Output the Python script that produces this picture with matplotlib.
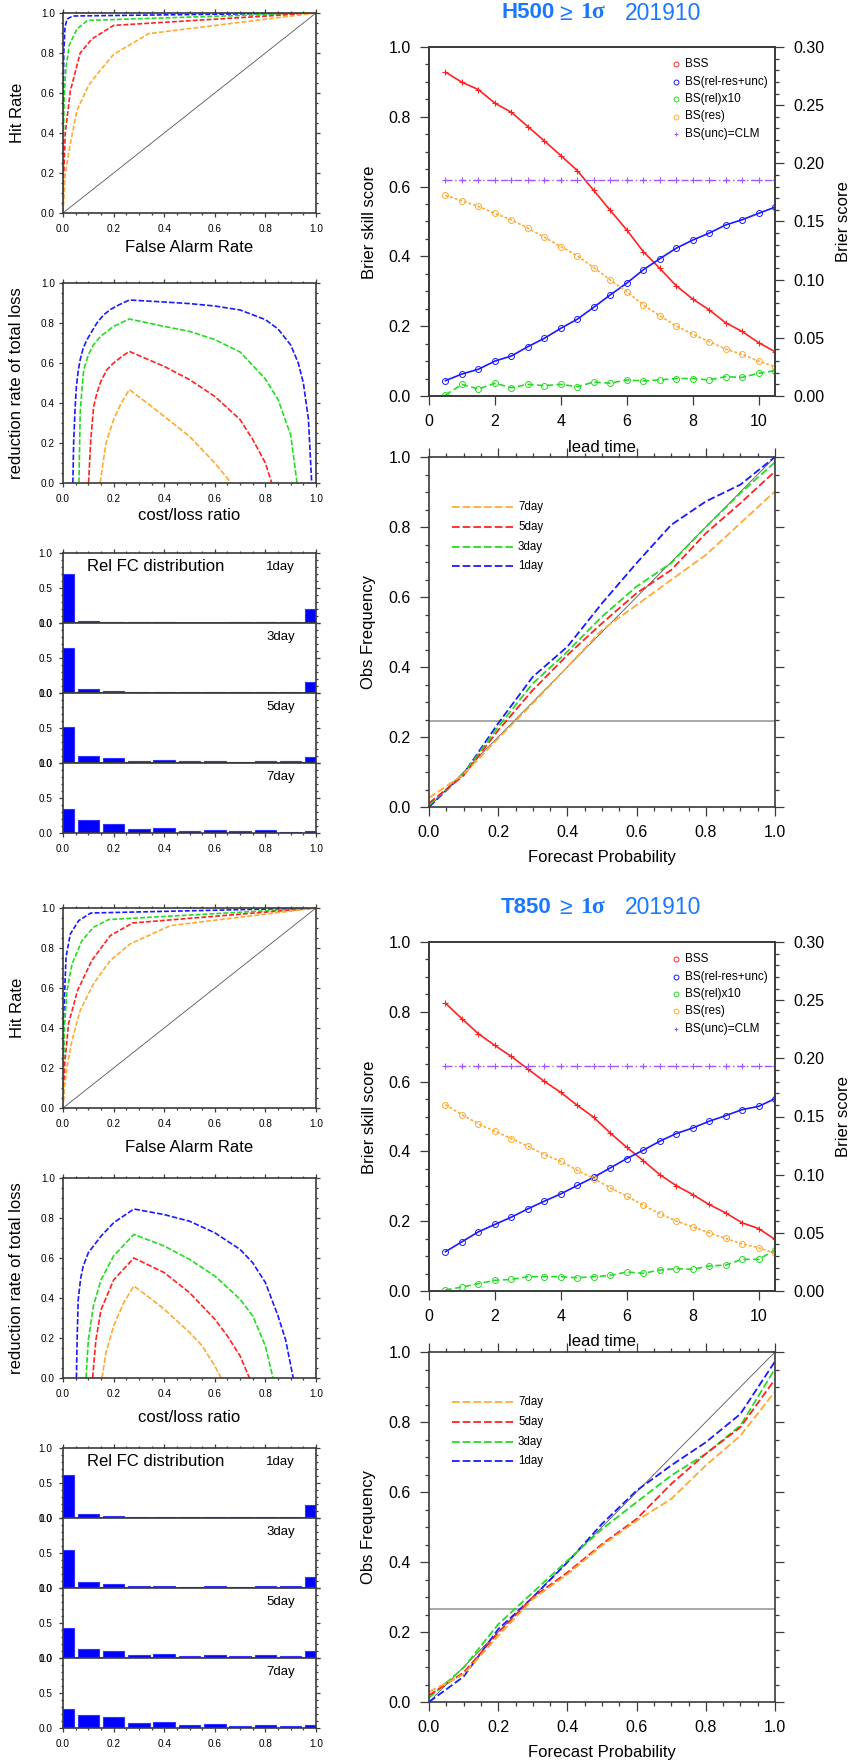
import matplotlib
matplotlib.use('Agg')
import matplotlib.pyplot as plt
from matplotlib.ticker import MultipleLocator, FormatStrFormatter

plt.rcParams['font.family'] = ['Liberation Sans', 'DejaVu Sans']
plt.rcParams['lines.scale_dashes'] = False

# ------------------------------------------------------------------ data
days = ['1day', '3day', '5day', '7day']
legend_order = ['7day', '5day', '3day', '1day']
title_month = '201910'

# ROC curves (false alarm rate, hit rate) per lead day
roc_h500_far = [[0, 0.001, 0.003, 0.008, 0.016, 0.039, 1.0],
                [0, 0.002, 0.005, 0.012, 0.025, 0.055, 0.097, 1.0],
                [0, 0.003, 0.009, 0.029, 0.068, 0.114, 0.2, 1.0],
                [0, 0.009, 0.029, 0.055, 0.101, 0.147, 0.2, 0.339, 1.0]]
roc_h500_hr = [[0, 0.55, 0.8, 0.93, 0.97, 0.985, 1.0],
               [0, 0.4, 0.6, 0.73, 0.84, 0.92, 0.963, 1.0],
               [0, 0.2, 0.4, 0.61, 0.8, 0.87, 0.938, 1.0],
               [0, 0.197, 0.347, 0.513, 0.638, 0.713, 0.793, 0.897, 1.0]]
roc_t850_far = [[0, 0.003, 0.012, 0.029, 0.062, 0.11, 1.0],
                [0, 0.005, 0.016, 0.036, 0.075, 0.121, 0.18, 1.0],
                [0, 0.007, 0.022, 0.058, 0.114, 0.187, 0.275, 1.0],
                [0, 0.005, 0.016, 0.036, 0.068, 0.121, 0.187, 0.266, 0.425, 1.0]]
roc_t850_hr = [[0, 0.47, 0.755, 0.87, 0.937, 0.975, 1.0],
               [0, 0.39, 0.589, 0.721, 0.837, 0.904, 0.942, 1.0],
               [0, 0.224, 0.423, 0.589, 0.738, 0.862, 0.925, 1.0],
               [0, 0.1, 0.207, 0.34, 0.489, 0.622, 0.738, 0.821, 0.912, 1.0]]

# Economic value curves (cost/loss ratio, reduction rate of total loss)
val_h500_cl = [[0.039, 0.042, 0.048, 0.053, 0.06, 0.068, 0.08, 0.095, 0.115, 0.134, 0.16, 0.187, 0.22, 0.262, 0.4, 0.5, 0.6, 0.7, 0.8, 0.85, 0.9, 0.93, 0.95, 0.97, 0.983],
               [0.063, 0.068, 0.075, 0.082, 0.1, 0.12, 0.15, 0.2, 0.262, 0.4, 0.5, 0.6, 0.7, 0.8, 0.85, 0.9, 0.925],
               [0.101, 0.11, 0.121, 0.134, 0.15, 0.174, 0.2, 0.23, 0.262, 0.4, 0.5, 0.6, 0.7, 0.75, 0.8, 0.825],
               [0.147, 0.158, 0.17, 0.2, 0.23, 0.262, 0.35, 0.4, 0.5, 0.6, 0.665]]
val_h500_rr = [[0, 0.2, 0.38, 0.483, 0.56, 0.617, 0.675, 0.717, 0.76, 0.8, 0.84, 0.867, 0.89, 0.915, 0.905, 0.897, 0.885, 0.865, 0.817, 0.77, 0.69, 0.6, 0.5, 0.32, 0],
               [0, 0.35, 0.47, 0.567, 0.64, 0.69, 0.735, 0.783, 0.82, 0.783, 0.758, 0.717, 0.655, 0.52, 0.417, 0.24, 0],
               [0, 0.22, 0.38, 0.45, 0.51, 0.567, 0.6, 0.63, 0.658, 0.583, 0.517, 0.433, 0.317, 0.217, 0.1, 0],
               [0, 0.1, 0.2, 0.317, 0.4, 0.467, 0.383, 0.333, 0.233, 0.1, 0]]
val_t850_cl = [[0.053, 0.056, 0.06, 0.07, 0.08, 0.1, 0.15, 0.2, 0.28, 0.4, 0.5, 0.6, 0.7, 0.75, 0.8, 0.85, 0.88, 0.91],
               [0.091, 0.1, 0.12, 0.15, 0.2, 0.28, 0.4, 0.5, 0.6, 0.7, 0.75, 0.8, 0.83],
               [0.117, 0.13, 0.15, 0.2, 0.28, 0.4, 0.5, 0.6, 0.65, 0.7, 0.737],
               [0.154, 0.17, 0.2, 0.24, 0.28, 0.35, 0.4, 0.5, 0.55, 0.6, 0.625]]
val_t850_rr = [[0, 0.2, 0.39, 0.5, 0.56, 0.626, 0.709, 0.776, 0.845, 0.817, 0.784, 0.726, 0.643, 0.576, 0.477, 0.31, 0.19, 0],
               [0, 0.19, 0.36, 0.49, 0.61, 0.718, 0.66, 0.593, 0.51, 0.394, 0.31, 0.16, 0],
               [0, 0.19, 0.34, 0.49, 0.6, 0.527, 0.427, 0.294, 0.21, 0.11, 0],
               [0, 0.128, 0.26, 0.377, 0.46, 0.394, 0.344, 0.228, 0.161, 0.06, 0]]

# Reliable forecast distribution histograms
hist_bins = [0.0, 0.1, 0.2, 0.3, 0.4, 0.5, 0.6, 0.7, 0.8, 0.9, 1.0]
hist_h500 = [[0.705, 0.022, 0.015, 0.008, 0.008, 0.006, 0.006, 0.008, 0.01, 0.01, 0.205],
             [0.643, 0.057, 0.035, 0.02, 0.02, 0.015, 0.015, 0.015, 0.02, 0.015, 0.162],
             [0.514, 0.1, 0.071, 0.035, 0.04, 0.025, 0.03, 0.02, 0.03, 0.025, 0.09],
             [0.348, 0.181, 0.129, 0.06, 0.07, 0.035, 0.05, 0.03, 0.04, 0.02, 0.035]]
hist_t850 = [[0.612, 0.057, 0.035, 0.015, 0.015, 0.01, 0.012, 0.01, 0.015, 0.015, 0.19],
             [0.55, 0.08, 0.055, 0.025, 0.03, 0.02, 0.025, 0.02, 0.03, 0.025, 0.153],
             [0.43, 0.134, 0.096, 0.045, 0.055, 0.035, 0.04, 0.03, 0.04, 0.03, 0.105],
             [0.272, 0.186, 0.153, 0.075, 0.085, 0.045, 0.055, 0.035, 0.045, 0.03, 0.05]]

# Brier scores vs lead time
lead = [0.5, 1.0, 1.5, 2.0, 2.5, 3.0, 3.5, 4.0, 4.5, 5.0, 5.5, 6.0, 6.5, 7.0, 7.5, 8.0, 8.5, 9.0, 9.5, 10.0, 10.5]
bss_h500 = [0.928, 0.899, 0.878, 0.839, 0.813, 0.772, 0.731, 0.689, 0.646, 0.589, 0.532, 0.476, 0.414, 0.366, 0.316, 0.278, 0.247, 0.21, 0.185, 0.153, 0.127]
bs_h500 = [0.0132, 0.0189, 0.023, 0.030, 0.0344, 0.0424, 0.0496, 0.0582, 0.066, 0.0763, 0.0869, 0.097, 0.1084, 0.1179, 0.127, 0.134, 0.14, 0.147, 0.1515, 0.157, 0.1623]
bsrel_h500 = [0.0009, 0.010, 0.006, 0.0109, 0.0072, 0.010, 0.0089, 0.010, 0.008, 0.012, 0.011, 0.0138, 0.0129, 0.0138, 0.015, 0.015, 0.0138, 0.0166, 0.016, 0.0195, 0.0218]
bsres_h500 = [0.1724, 0.1678, 0.163, 0.1569, 0.1515, 0.1443, 0.1365, 0.1285, 0.1205, 0.1104, 0.0998, 0.0898, 0.0783, 0.0691, 0.0602, 0.0531, 0.0468, 0.0404, 0.0358, 0.030, 0.0252]
bsunc_h500 = [0.1858] * 21
bss_t850 = [0.8246, 0.78, 0.737, 0.7035, 0.672, 0.636, 0.6006, 0.569, 0.532, 0.4976, 0.4528, 0.4118, 0.3737, 0.3337, 0.302, 0.2765, 0.248, 0.224, 0.1954, 0.179, 0.1478]
bs_t850 = [0.0338, 0.0423, 0.0509, 0.0572, 0.0635, 0.0706, 0.0772, 0.0835, 0.0907, 0.0978, 0.1058, 0.1138, 0.121, 0.1287, 0.1353, 0.1401, 0.1459, 0.1507, 0.1559, 0.1587, 0.1653]
bsrel_t850 = [0.0009, 0.0034, 0.0063, 0.0092, 0.010, 0.0123, 0.0123, 0.0123, 0.0114, 0.0123, 0.0134, 0.0163, 0.0152, 0.018, 0.0192, 0.0186, 0.0215, 0.0223, 0.0272, 0.0272, 0.0352]
bsres_t850 = [0.1602, 0.1516, 0.1436, 0.1373, 0.131, 0.1244, 0.1173, 0.1115, 0.1038, 0.0967, 0.0887, 0.0815, 0.0738, 0.0666, 0.0601, 0.0552, 0.05, 0.0452, 0.0406, 0.0372, 0.0323]
bsunc_t850 = [0.1936] * 21
bs_legend = ['BSS', 'BS(rel-res+unc)', 'BS(rel)x10', 'BS(res)', 'BS(unc)=CLM']

# Reliability diagrams
fc_prob = [0.0, 0.1, 0.2, 0.3, 0.4, 0.5, 0.6, 0.7, 0.8, 0.9, 1.0]
rel_h500 = [[0.0, 0.095, 0.239, 0.372, 0.458, 0.582, 0.697, 0.806, 0.873, 0.921, 1.0],
            [0.005, 0.095, 0.229, 0.353, 0.444, 0.544, 0.63, 0.697, 0.8, 0.897, 0.985],
            [0.011, 0.09, 0.219, 0.334, 0.434, 0.525, 0.611, 0.677, 0.782, 0.868, 0.959],
            [0.026, 0.093, 0.196, 0.296, 0.4, 0.506, 0.577, 0.649, 0.72, 0.811, 0.902]]
rel_t850 = [[0.0, 0.0725, 0.208, 0.299, 0.399, 0.509, 0.604, 0.676, 0.742, 0.823, 0.973],
            [0.012, 0.098, 0.222, 0.313, 0.404, 0.494, 0.571, 0.647, 0.709, 0.79, 0.952],
            [0.019, 0.084, 0.198, 0.299, 0.37, 0.451, 0.523, 0.623, 0.709, 0.785, 0.922],
            [0.029, 0.079, 0.189, 0.294, 0.365, 0.447, 0.518, 0.58, 0.676, 0.761, 0.887]]
clim_h500 = 0.246
clim_t850 = 0.265

# ------------------------------------------------------------------ style
W, H = 858, 1761
AX = '#3a3a3a'
DAY_COL = {'1day': '#1a1aff', '3day': '#22dd22', '5day': '#ff2222', '7day': '#ffaa33'}
BLUE, RED, GREEN, ORANGE, PURPLE = '#1a1aff', '#ff2222', '#22dd22', '#ffaa33', '#a055ff'
TITLE_COL = '#1a78ff'

fig = plt.figure(figsize=(W / 100, H / 100), dpi=100)


def add_ax(l, t, r, b, off):
    return fig.add_axes([l / W, 1 - (b + off) / H, (r - l) / W, (b - t) / H])


def ftext(x, y, s, **kw):
    kw.setdefault('ha', 'center')
    kw.setdefault('va', 'center')
    return fig.text(x / W, 1 - y / H, s, **kw)


def style(ax, maj, mnr, lsize, padx, pady, top=True, right=True):
    ax.tick_params(which='both', direction='out', color=AX, width=0.9,
                   top=top, right=right, labelsize=lsize, labelcolor='black')
    ax.tick_params(which='major', length=maj)
    ax.tick_params(which='minor', length=mnr)
    ax.tick_params(axis='x', pad=padx)
    ax.tick_params(axis='y', pad=pady)
    for sp in ax.spines.values():
        sp.set_color(AX)
        sp.set_linewidth(1.2)


sets = [
    dict(var='H500', roc_far=roc_h500_far, roc_hr=roc_h500_hr, val_cl=val_h500_cl, val_rr=val_h500_rr,
         hist=hist_h500, bss=bss_h500, bs=bs_h500, bsrel=bsrel_h500, bsres=bsres_h500, bsunc=bsunc_h500,
         rel=rel_h500, clim=clim_h500, off=0, far_y=248, cl_y=515),
    dict(var='T850', roc_far=roc_t850_far, roc_hr=roc_t850_hr, val_cl=val_t850_cl, val_rr=val_t850_rr,
         hist=hist_t850, bss=bss_t850, bs=bs_t850, bsrel=bsrel_t850, bsres=bsres_t850, bsunc=bsunc_t850,
         rel=rel_t850, clim=clim_t850, off=895, far_y=1148, cl_y=1418),
]

for S in sets:
    off = S['off']

    # ---------------- ROC
    ax = add_ax(63, 13, 316, 213, off)
    ax.plot([0, 1], [0, 1], color='#555555', lw=0.6)
    for i, d in enumerate(days):
        ax.plot(S['roc_far'][i], S['roc_hr'][i], color=DAY_COL[d], lw=1.2, dashes=(3.5, 1.5))
    ax.set_xlim(0, 1); ax.set_ylim(0, 1)
    ax.xaxis.set_major_locator(MultipleLocator(0.2)); ax.xaxis.set_minor_locator(MultipleLocator(0.05))
    ax.yaxis.set_major_locator(MultipleLocator(0.2)); ax.yaxis.set_minor_locator(MultipleLocator(0.05))
    ax.xaxis.set_major_formatter(FormatStrFormatter('%.1f')); ax.yaxis.set_major_formatter(FormatStrFormatter('%.1f'))
    style(ax, 3.1, 1.6, 7.2, 5.0, 2.7)
    ftext(18, 113 + off, 'Hit Rate', rotation=90, fontsize=12)
    ftext(189.5, S['far_y'], 'False Alarm Rate', fontsize=12)

    # ---------------- Economic value
    ax = add_ax(63, 283, 316, 483, off)
    for i, d in enumerate(days):
        ax.plot(S['val_cl'][i], S['val_rr'][i], color=DAY_COL[d], lw=1.2, dashes=(4, 1.5))
    ax.set_xlim(0, 1); ax.set_ylim(0, 1)
    ax.xaxis.set_major_locator(MultipleLocator(0.2)); ax.xaxis.set_minor_locator(MultipleLocator(0.05))
    ax.yaxis.set_major_locator(MultipleLocator(0.2)); ax.yaxis.set_minor_locator(MultipleLocator(0.05))
    ax.xaxis.set_major_formatter(FormatStrFormatter('%.1f')); ax.yaxis.set_major_formatter(FormatStrFormatter('%.1f'))
    style(ax, 3.1, 1.6, 7.2, 5.0, 2.7)
    ftext(17, 383 + off, 'reduction rate of total loss', rotation=90, fontsize=12)
    ftext(189.5, S['cl_y'], 'cost/loss ratio', fontsize=12)

    # ---------------- Histograms
    for i, d in enumerate(days):
        t = 553 + 70 * i
        ax = add_ax(63, t, 316, t + 70, off)
        ax.bar(hist_bins, S['hist'][i], width=0.085, color='#0000ff', edgecolor='#3333ff', lw=0.8)
        ax.set_xlim(0, 1); ax.set_ylim(0, 1)
        ax.set_yticks([0, 0.5, 1.0]); ax.set_yticklabels(['0.0', '0.5', '1.0'])
        ax.yaxis.set_minor_locator(MultipleLocator(0.1))
        ax.xaxis.set_major_locator(MultipleLocator(0.2)); ax.xaxis.set_minor_locator(MultipleLocator(0.05))
        ax.xaxis.set_major_formatter(FormatStrFormatter('%.1f'))
        style(ax, 3.1, 1.6, 7.2, 5.0, 4.5, top=(i == 0))
        if i < 3:
            ax.tick_params(axis='x', which='both', bottom=False, labelbottom=False)
        ftext(266, t + 14 + off, d, fontsize=9.5, ha='left')
        if i == 0:
            ftext(87, t + 14 + off, 'Rel FC distribution', fontsize=12, ha='left')

    # ---------------- Brier scores
    ax = add_ax(429, 47, 775, 396, off)
    ax2 = ax.twinx()
    ax.set_xlim(0, 10.5); ax.set_ylim(0, 1)
    ax2.set_ylim(0, 0.3)
    ax.plot(lead, S['bss'], color=RED, lw=1.2, marker='+', ms=5, mew=0.8, zorder=3)
    ax2.plot(lead, S['bs'], color=BLUE, lw=1.2, marker='o', ms=4.3, mfc='none', mew=0.7)
    ax2.plot(lead, S['bsrel'], color=GREEN, lw=1.2, dashes=(4.5, 2.5), marker='o', ms=4.3, mfc='none', mew=0.7)
    ax2.plot(lead, S['bsres'], color=ORANGE, lw=1.2, dashes=(2, 1.5), marker='o', ms=4.3, mfc='none', mew=0.7)
    ax2.plot(lead, S['bsunc'], color=PURPLE, lw=1.0, dashes=(5, 2, 1, 2), marker='+', ms=5, mew=0.8)
    ax.set_xticks([0, 2, 4, 6, 8, 10])
    ax.yaxis.set_major_locator(MultipleLocator(0.2)); ax.yaxis.set_minor_locator(MultipleLocator(0.05))
    ax.yaxis.set_major_formatter(FormatStrFormatter('%.1f'))
    ax2.yaxis.set_major_locator(MultipleLocator(0.05)); ax2.yaxis.set_minor_locator(MultipleLocator(0.01))
    ax2.yaxis.set_major_formatter(FormatStrFormatter('%.2f'))
    style(ax, 6.5, 2.9, 11.5, 6.5, 6.5, top=False, right=False)
    style(ax2, 6.5, 2.9, 11.5, 6.5, 6.5, top=False, right=True)
    ax2.tick_params(left=False, which='both')
    ftext(370, 222 + off, 'Brier skill score', rotation=90, fontsize=12)
    ftext(843, 222 + off, 'Brier score', rotation=90, fontsize=12)
    ftext(602, 447 + off, 'lead time', fontsize=12)
    # legend (markers only)
    leg_cols = [RED, BLUE, GREEN, ORANGE, PURPLE]
    leg_mk = ['o', 'o', 'o', 'o', '+']
    for k in range(5):
        yy = 64.3 + 17.4 * k + off
        fx = 676 / W
        fy = 1 - yy / H
        fig.lines.append(plt.Line2D([fx], [fy], transform=fig.transFigure, marker=leg_mk[k], ms=3.5,
                                    mfc='none', mec=leg_cols[k], mew=0.7, ls='none'))
        ftext(685, yy, bs_legend[k], fontsize=8.5, ha='left')

    # title
    ty = 13 + off
    ftext(501, ty, S['var'], fontsize=16, fontweight='bold', color=TITLE_COL, ha='left')
    ftext(559, ty, '\u2265', fontsize=16.5, color=TITLE_COL, ha='left')
    ftext(580, ty, '1\u03c3', fontsize=17, fontweight='bold', color=TITLE_COL, ha='left',
          family=['Liberation Serif', 'DejaVu Serif'])
    ftext(625, ty, title_month, fontsize=16.5, color=TITLE_COL, ha='left')

    # ---------------- Reliability
    ax = add_ax(429, 457, 775, 807, off)
    ax.plot([0, 1], [0, 1], color='#555555', lw=0.6)
    ax.axhline(S['clim'], color='#999999', lw=1.2)
    for i, d in enumerate(days):
        ax.plot(fc_prob, S['rel'][i], color=DAY_COL[d], lw=1.3, dashes=(5.5, 2.2))
    ax.set_xlim(0, 1); ax.set_ylim(0, 1)
    ax.xaxis.set_major_locator(MultipleLocator(0.2)); ax.xaxis.set_minor_locator(MultipleLocator(0.05))
    ax.yaxis.set_major_locator(MultipleLocator(0.2)); ax.yaxis.set_minor_locator(MultipleLocator(0.05))
    ax.xaxis.set_major_formatter(FormatStrFormatter('%.1f')); ax.yaxis.set_major_formatter(FormatStrFormatter('%.1f'))
    style(ax, 6.5, 2.9, 11.5, 6.5, 6.5)
    ftext(368, 632 + off, 'Obs Frequency', rotation=90, fontsize=12)
    ftext(602, 857 + off, 'Forecast Probability', fontsize=12)
    for k, d in enumerate(legend_order):
        yy = 507 + 19.8 * k + off
        fig.lines.append(plt.Line2D([452 / W, 513 / W], [1 - yy / H, 1 - yy / H], transform=fig.transFigure,
                                    color=DAY_COL[d], lw=1.3, dashes=(5.5, 2.2)))
        ftext(518, yy, d, fontsize=8.3, ha='left')

fig.savefig('out.png', dpi=100)
